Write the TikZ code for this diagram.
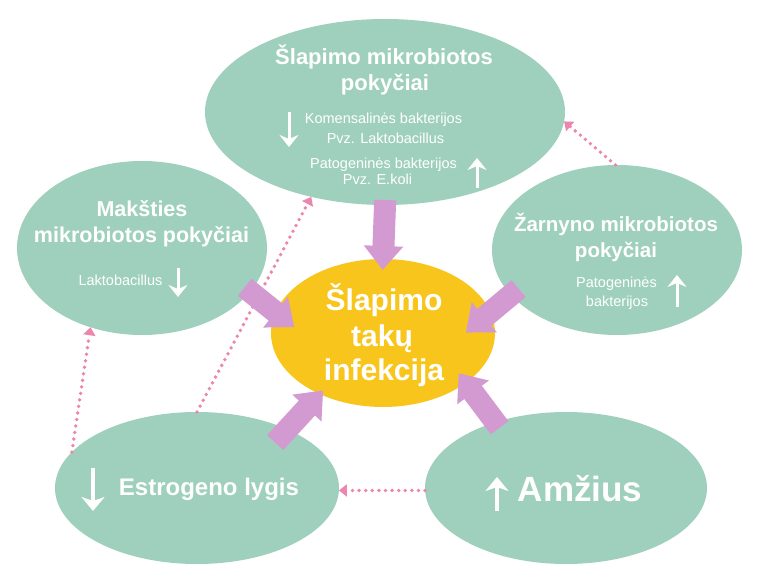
\documentclass[tikz,border=0pt]{standalone}
\usepackage{fontspec}
\setmainfont{Liberation Sans}
\usetikzlibrary{arrows.meta,shapes.geometric}
\definecolor{mint}{HTML}{9FD0BE}
\definecolor{sun}{HTML}{F8C51C}
\definecolor{lilac}{HTML}{D39AD1}
\definecolor{rose}{HTML}{EC86AE}
\begin{document}
\begin{tikzpicture}[x=1pt,y=-1pt,
 ell/.style={ellipse, fill=mint, inner sep=0pt, outer sep=0pt},
 hd/.style={text=white, font=\bfseries\fontsize{#1}{#1}\selectfont, anchor=base, inner sep=0pt},
 sm/.style={text=white, font=\fontsize{14.5}{14.5}\selectfont, anchor=base, inner sep=0pt},
 fat/.style={draw=lilac, line width=22pt, -{Triangle[length=24pt,width=38pt]}},
 dotarr/.style={draw=rose, line width=3.8pt, line cap=round, dash pattern=on 0pt off 6.6pt, -{Triangle[length=8pt,width=12pt]}},
 warr/.style={draw=white, line width=3pt, -{Stealth[length=12pt,width=19pt,inset=4pt]}},
 warrbig/.style={draw=white, line width=3.3pt, -{Stealth[length=14pt,width=23pt,inset=4pt]}},
 pics/wdn/.style={code={\draw[warr] (0,-#1) -- (0,#1);}},
 pics/wup/.style={code={\draw[warr] (0,#1) -- (0,-#1);}},
 pics/Wdn/.style={code={\draw[warrbig] (0,-#1) -- (0,#1);}},
 pics/Wup/.style={code={\draw[warrbig] (0,#1) -- (0,-#1);}},
]
\fill[white] (0,0) rectangle (768,577);
\useasboundingbox (0,0) rectangle (768,577);

% ellipses
\node[ell, minimum width=360pt, minimum height=186pt] (top) at (385,112) {};
\node[ell, minimum width=250pt, minimum height=174pt] (mak) at (142,248) {};
\node[ell, minimum width=250pt, minimum height=170pt] (zar) at (617,250) {};
\node[ell, fill=sun, minimum width=224pt, minimum height=148pt] (ctr) at (383,333) {};
\node[ell, minimum width=284pt, minimum height=152pt] (est) at (197,488) {};
\node[ell, minimum width=282pt, minimum height=152pt] (amz) at (566,488) {};

% dotted connectors
\draw[dotarr] (est.164.9) -- (mak.-123);
\draw[dotarr] (est.90) -- (top.-131.7);
\draw[dotarr] (zar.91) -- (top.-3.5);
\draw[dotarr] (amz.181.5) -- (est.-1.5);

% thick arrows
\draw[fat, shorten <=-5pt, shorten >=-11pt] (top.-90) -- (ctr.90);
\draw[fat, shorten <=-7pt, shorten >=-24pt] (mak.-22.6) -- (ctr.169.4);
\draw[fat, shorten <=-10pt, shorten >=-32pt] (zar.-157.5) -- (ctr.11.9);
\draw[fat, shorten <=-18pt, shorten >=-5pt] (est.33.3) -- (ctr.-136.2);
\draw[fat, shorten <=-7pt, shorten >=-12pt] (amz.137.7) -- (ctr.-31.3);

% top texts
\node[hd=22] (t1) at (384,65) {Šlapimo mikrobiotos};
\node[hd=22] (t2) at (385,91) {pokyčiai};
\node[sm] (t3) at (383.5,123.3) {Komensalinės bakterijos};
\node[sm] (t4) at (385.5,143.3) {Pvz. Laktobacillus};
\node[sm] (t5) at (383.5,168.3) {Patogeninės bakterijos};
\node[sm] (t6) at (377.5,184.3) {Pvz. E.koli};
\pic at (289,129.5) {wdn=17.5};
\pic at (477,173) {wup=15};

% mak texts
\node[hd=21.5] (m1) at (142,216.7) {Makšties};
\node[hd=21.5] (m2) at (141.5,242.7) {mikrobiotos pokyčiai};
\node[sm] (m3) at (120.5,285) {Laktobacillus};
\pic at (178,282.5) {wdn=14.5};

% zar texts
\node[hd=20.5] (z1) at (616,231.7) {Žarnyno mikrobiotos};
\node[hd=20.5] (z2) at (616,257.7) {pokyčiai};
\node[sm] (z3) at (616.5,287.7) {Patogeninės};
\node[sm] (z4) at (617,306.7) {bakterijos};
\pic at (677,291) {wup=16};

% centre texts
\node[hd=30] (c1) at (384,310) {Šlapimo};
\node[hd=30] (c2) at (382,346) {takų};
\node[hd=30] (c3) at (384,380) {infekcija};

% estrogen
\node[hd=24] (e1) at (209,495) {Estrogeno lygis};
\pic at (93,489.5) {Wdn=21.5};

% age
\node[hd=35] (a1) at (580,501.7) {Amžius};
\pic at (497,494) {Wup=17};
\end{tikzpicture}
\end{document}
